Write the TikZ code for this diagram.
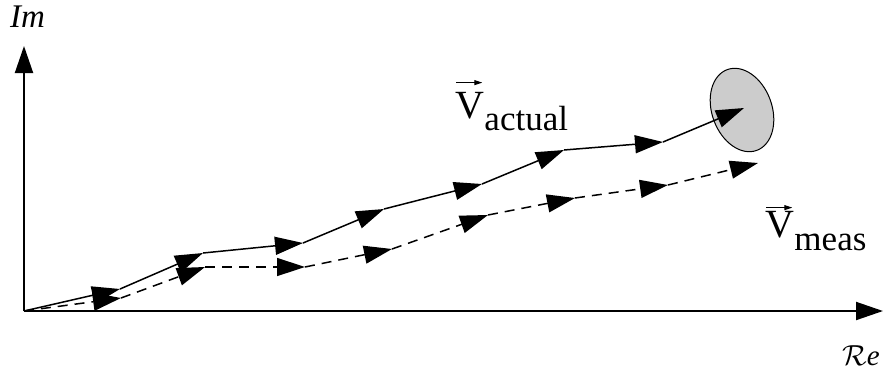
\RequirePackage{fix-cm}
\documentclass[tikz,border=0pt]{standalone}
\usepackage{fontspec}
\setmainfont{Liberation Serif}
\newfontfamily\tnr{Liberation Serif}
\usetikzlibrary{arrows.meta,shapes.geometric}
\begin{document}
\begin{tikzpicture}[x=1pt,y=-1pt,
  axis/.style={line width=2pt,-{Triangle[length=27pt,width=18pt]}},
  vecseg/.style={line width=1.5pt,-{Triangle[length=28pt,width=18pt]}},
  measseg/.style={vecseg,dash pattern=on 10pt off 7pt},
  lbl/.style={anchor=base west,inner sep=0pt},
  bigtxt/.style={font=\tnr\fontsize{40}{40}\selectfont},
  subtxt/.style={font=\tnr\fontsize{35}{35}\selectfont},
  axlbl/.style={font=\tnr\fontsize{33}{33}\selectfont\itshape},
  relbl/.style={font=\tnr\fontsize{29}{29}\selectfont\itshape},
  vecmark/.style={line width=1pt,-{Triangle[length=8pt,width=5pt]}},
  region/.style={ellipse,draw,line width=1pt,fill=black!20,minimum width=60pt,minimum height=86pt,inner sep=0pt}]
\useasboundingbox (0,0) rectangle (884,376);
% axes
\coordinate (o) at (24,311);
\coordinate (xend) at (883,311);
\coordinate (yend) at (24,46);
\draw[axis] (o) -- (xend);
\draw[axis] (o) -- (yend);
\node[lbl,axlbl] (im) at (10,27) {Im};
\node[lbl,relbl] (re) at (842,365) {$\mathcal{R}$e};
% error region
\node[region,rotate=20] (err) at (742,110) {};
% actual path
\coordinate (a0) at (24,311);
\coordinate (a1) at (120,289);
\coordinate (a2) at (203,253);
\coordinate (a3) at (303,243);
\coordinate (a4) at (384,209);
\coordinate (a5) at (482,184);
\coordinate (a6) at (564,150);
\coordinate (a7) at (663,142);
\coordinate (a8) at (744,108);
\foreach \p/\q in {a0/a1,a1/a2,a2/a3,a3/a4,a4/a5,a5/a6,a6/a7,a7/a8}
  \draw[vecseg] (\p) -- (\q);
% measured path
\coordinate (d0) at (24,311);
\coordinate (d1) at (121,298);
\coordinate (d2) at (205,267);
\coordinate (d3) at (305,267);
\coordinate (d4) at (392,249);
\coordinate (d5) at (488,215);
\coordinate (d6) at (575,198);
\coordinate (d7) at (668,185);
\coordinate (d8) at (758,163);
\foreach \p/\q in {d0/d1,d1/d2,d2/d3,d3/d4,d4/d5,d5/d6,d6/d7,d7/d8}
  \draw[measseg] (\p) -- (\q);
% labels
\node[lbl,bigtxt] (va) at (455,118) {V};
\node[lbl,subtxt] (vas) at ([yshift=-12pt]va.base east) {actual};
\draw[vecmark] ([yshift=9pt,xshift=1pt]va.north west) -- ([yshift=9pt,xshift=-2pt]va.north east);
\node[lbl,bigtxt] (vm) at (765,237) {V};
\node[lbl,subtxt] (vms) at ([yshift=-13pt]vm.base east) {meas};
\draw[vecmark] ([yshift=3pt,xshift=1pt]vm.north west) -- ([yshift=3pt,xshift=-2pt]vm.north east);
\end{tikzpicture}
\end{document}
